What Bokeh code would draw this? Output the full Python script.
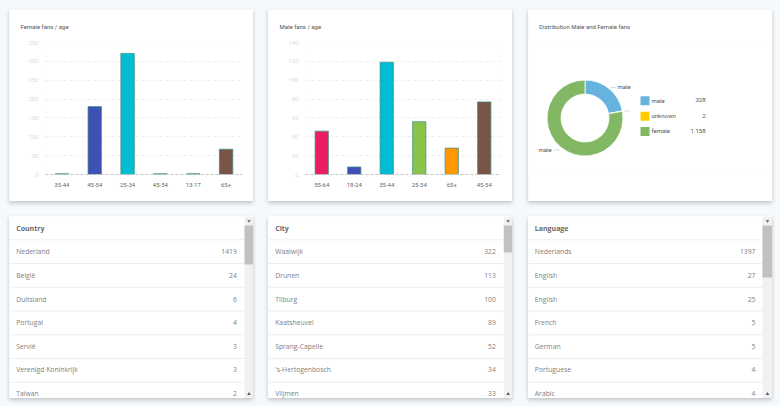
from bokeh.core.properties import value
from bokeh.embed import file_html
from bokeh.layouts import column, row
from bokeh.models import FixedTicker, Range1d
from bokeh.plotting import figure
from bokeh.resources import INLINE
import numpy as np

female_titel = "Female fans / age"
female_ages = ["35-44", "45-54", "25-34", "45-54", "13-17", "65+"]
female_values = [2, 180, 321, 2, 2, 67]
female_colors = ["#2f8f95", "#3f51b5", "#00bcd4", "#2f8f95", "#2f8f95", "#795548"]
female_ticks = [0, 50, 100, 150, 200, 250, 300, 350]

male_titel = "Male fans / age"
male_ages = ["55-64", "18-24", "35-44", "25-34", "65+", "45-54"]
male_values = [46, 8, 119, 56, 28, 77]
male_colors = ["#e91e63", "#3f51b5", "#00bcd4", "#8bc34a", "#ff9800", "#795548"]
male_ticks = [0, 20, 40, 60, 80, 100, 120, 140]

dist_titel = "Distribution Male and Female fans"
dist_names = ["male", "unknown", "female"]
dist_values = [328, 2, 1158]
dist_labels = ["1.158" if v == 1158 else str(v) for v in dist_values]
dist_colors = ["#66b4de", "#ffcc00", "#82b763"]

countries = ["Nederland", "België", "Duitsland", "Portugal", "Servië", "Verenigd Koninkrijk", "Taiwan"]
country_counts = [1419, 24, 6, 4, 3, 3, 2]
cities = ["Waalwijk", "Drunen", "Tilburg", "Kaatsheuvel", "Sprang-Capelle", "'s-Hertogenbosch", "Vlijmen"]
city_counts = [322, 113, 100, 89, 52, 34, 33]
languages = ["Nederlands", "English", "English", "French", "German", "Portuguese", "Arabic"]
language_counts = [1397, 27, 25, 5, 5, 4, 4]

BG = "#f6f9fc"
SHADOW = "0 2px 4px rgba(0,0,0,0.22)"
CHART_FONT = "Roboto"
TABLE_FONT = "Open Sans"
CHART_SIZE = "6px"
TOP, BOTTOM = 33, 27


def card_styles():
    return {"box-shadow": SHADOW}


def style_title(p, title, offset):
    p.title.text = title
    p.title.text_font = CHART_FONT
    p.title.text_font_size = CHART_SIZE
    p.title.text_font_style = "normal"
    p.title.text_color = "#555555"
    p.title.align = "left"
    p.title.offset = offset
    p.title.vertical_align = "top"
    p.title.standoff = 21


def bar_card(title, ages, values, colors, ticks, margin, left, right):
    p = figure(width=244, height=192, output_backend="svg", toolbar_location=None,
               x_range=Range1d(-0.5, 5.5), y_range=Range1d(0, ticks[-1]),
               min_border_left=left, min_border_right=right, min_border_top=TOP, min_border_bottom=BOTTOM,
               background_fill_color="white", border_fill_color="white", outline_line_color=None,
               margin=margin, styles=card_styles())
    xs = list(range(len(ages)))
    p.vbar(x=xs, top=values, width=0.41, fill_color=colors, line_color="#3f8f85", line_alpha=0.9, line_width=0.8)
    p.xgrid.visible = False
    p.ygrid.ticker = FixedTicker(ticks=ticks)
    p.ygrid.grid_line_color = "#e6e6e6"
    p.ygrid.grid_line_dash = [3, 3]
    p.ygrid.grid_line_width = 0.8
    p.xaxis.ticker = FixedTicker(ticks=xs)
    p.xaxis.major_label_overrides = dict(zip(xs, ages))
    p.xaxis.major_label_text_font = CHART_FONT
    p.xaxis.major_label_text_font_size = CHART_SIZE
    p.xaxis.major_label_text_color = "#666666"
    p.xaxis.major_label_standoff = 2
    p.xaxis.major_tick_line_color = None
    p.xaxis.minor_tick_line_color = None
    p.xaxis.axis_line_color = "#c4c4c4"
    p.xaxis.axis_line_dash = [3, 2]
    p.xaxis.axis_line_width = 1.2
    p.yaxis.ticker = FixedTicker(ticks=ticks)
    p.yaxis.major_label_text_font = CHART_FONT
    p.yaxis.major_label_text_font_size = CHART_SIZE
    p.yaxis.major_label_text_color = "#dcdcdc"
    p.yaxis.major_label_standoff = 1
    p.yaxis.major_tick_line_color = None
    p.yaxis.minor_tick_line_color = None
    p.yaxis.axis_line_color = None
    style_title(p, title, 11 - left)
    return p


def donut_card(margin):
    p = figure(width=244, height=192, output_backend="svg", toolbar_location=None,
               x_range=Range1d(0, 244), y_range=Range1d(BOTTOM, 192 - TOP),
               min_border_left=0, min_border_right=0, min_border_top=TOP, min_border_bottom=BOTTOM,
               background_fill_color="white", border_fill_color="white", outline_line_color=None,
               margin=margin, styles=card_styles())
    p.axis.visible = False
    p.grid.visible = False
    total = sum(dist_values)
    shares = np.cumsum([0] + dist_values) / total
    starts = np.pi / 2 - 2 * np.pi * shares[1:]
    ends = np.pi / 2 - 2 * np.pi * shares[:-1]
    cx, cy, ro, ri = 56.5, 83.5, 38, 24
    p.annular_wedge(x=cx, y=cy, inner_radius=ri, outer_radius=ro, start_angle=starts, end_angle=ends,
                    fill_color=dist_colors, line_color="white", line_width=0.8)
    p.multi_line(xs=[[82, 87.6], [95.7, 102], [26, 31]], ys=[[114, 114], [90.3, 90.7], [51.5, 51.5]],
                 line_color="#c8c8c8", line_width=0.7)
    font = dict(text_font=value(CHART_FONT), text_font_size=value(CHART_SIZE), text_color="#555555",
                text_baseline="alphabetic")
    p.text(x=[89, 10], y=[114.7, 51.7], text=["male", "male"], **font)
    rows_y = [192 - 100.3 + 9, 192 - 115.7 + 9, 192 - 131 + 9]
    p.rect(x=[116.5] * 3, y=rows_y, width=9, height=9, fill_color=dist_colors, line_color=None)
    p.text(x=[123] * 3, y=[v + 0.7 for v in rows_y], text=dist_names, **font)
    p.text(x=[177] * 3, y=[v + 0.7 for v in rows_y], text=dist_labels, text_align="right", **font)
    style_title(p, dist_titel, 10.5)
    return p


def table_card(header, names, counts, margin, text_x, right_x, scroll_x, thumb_end):
    width = 244
    p = figure(width=width, height=182, output_backend="svg", toolbar_location=None,
               x_range=Range1d(0, width), y_range=Range1d(182, 0), min_border=0,
               background_fill_color="white", border_fill_color="white", outline_line_color=None,
               margin=margin, styles=card_styles())
    p.axis.visible = False
    p.grid.visible = False
    ys = [35.3 + i * 23.6 for i in range(len(names))]
    lines = [23.3 + i * 23.75 for i in range(len(names))]
    p.segment(x0=0, x1=scroll_x, y0=lines, y1=lines, line_color="#eeeeee", line_width=1)
    font = dict(text_font=value(TABLE_FONT), text_baseline="alphabetic")
    p.text(x=[text_x], y=[12], text=[header], text_font_style="bold", text_color="#6a6a6a",
           text_font_size=value("7px"), **font)
    p.text(x=[text_x] * len(names), y=ys, text=names, text_color="#808080", text_font_size=value("6.8px"), **font)
    p.text(x=[right_x] * len(names), y=ys, text=[str(c) for c in counts], text_color="#808080",
           text_font_size=value("6.8px"), text_align="right", **font)
    p.quad(left=[scroll_x], right=[width], top=[0], bottom=[182], fill_color="#f1f1f1", line_color=None)
    p.quad(left=[scroll_x], right=[width], top=[9], bottom=[thumb_end], fill_color="#c1c1c1", line_color=None)
    mid = (scroll_x + width) / 2
    p.scatter(x=[mid], y=[4.5], marker="inverted_triangle", size=3.5, fill_color="#777777", line_color=None)
    p.scatter(x=[mid], y=[177.5], marker="triangle", size=3.5, fill_color="#555555", line_color=None)
    return p


top = row(
    bar_card(female_titel, female_ages, female_values, female_colors, female_ticks, (9, 0, 0, 9), 36, 11),
    bar_card(male_titel, male_ages, male_values, male_colors, male_ticks, (9, 0, 0, 15), 37, 12),
    donut_card((9, 0, 0, 16)),
)
bottom = row(
    table_card("Country", countries, country_counts, (15, 0, 0, 9), 6.7, 227.3, 235, 48),
    table_card("City", cities, city_counts, (15, 0, 0, 15), 6.7, 227.3, 235.3, 36),
    table_card("Language", languages, language_counts, (15, 0, 0, 16), 6.3, 227, 234, 61),
)
page = column(top, bottom)
html = file_html(page, INLINE)
html = html.replace("</head>", "<style>html,body{background:%s;overflow:hidden}</style></head>" % BG, 1)
open("out.html", "w").write(html)
